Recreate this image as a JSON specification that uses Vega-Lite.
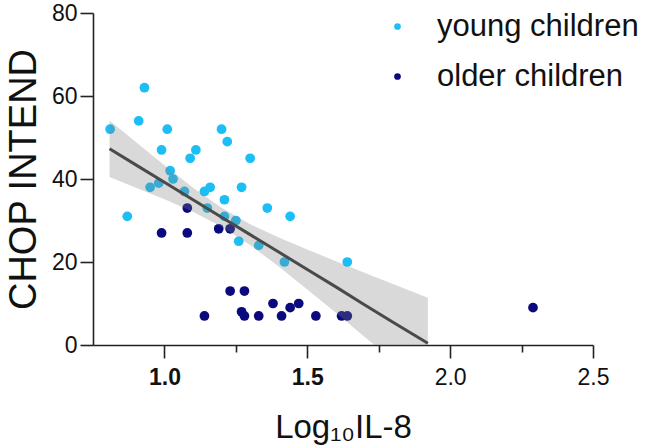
{
  "$schema": "https://vega.github.io/schema/vega-lite/v6.json",
  "width": 500,
  "height": 332,
  "autosize": "none",
  "padding": {"left": 93, "top": 13, "right": 52, "bottom": 102},
  "background": "white",
  "config": {
    "view": {"stroke": null},
    "font": "Liberation Sans",
    "axis": {
      "grid": false,
      "domainColor": "#222222",
      "tickColor": "#222222",
      "domainWidth": 1.6,
      "tickWidth": 1.6,
      "labelColor": "#111111",
      "titleColor": "#111111",
      "labelFont": "Liberation Sans",
      "titleFont": "Liberation Sans",
      "titleFontWeight": "normal"
    },
    "legend": {"padding": 0}
  },
  "datasets": {
    "points": [
      {"log_il8": 0.93, "chop": 62, "group": "young children"},
      {"log_il8": 0.91, "chop": 54, "group": "young children"},
      {"log_il8": 0.81, "chop": 52, "group": "young children"},
      {"log_il8": 1.01, "chop": 52, "group": "young children"},
      {"log_il8": 1.20, "chop": 52, "group": "young children"},
      {"log_il8": 1.22, "chop": 49, "group": "young children"},
      {"log_il8": 0.99, "chop": 47, "group": "young children"},
      {"log_il8": 1.11, "chop": 47, "group": "young children"},
      {"log_il8": 1.09, "chop": 45, "group": "young children"},
      {"log_il8": 1.30, "chop": 45, "group": "young children"},
      {"log_il8": 1.02, "chop": 42, "group": "young children"},
      {"log_il8": 1.03, "chop": 40, "group": "young children"},
      {"log_il8": 0.95, "chop": 38, "group": "young children"},
      {"log_il8": 0.98, "chop": 39, "group": "young children"},
      {"log_il8": 1.07, "chop": 37, "group": "young children"},
      {"log_il8": 1.14, "chop": 37, "group": "young children"},
      {"log_il8": 1.16, "chop": 38, "group": "young children"},
      {"log_il8": 1.27, "chop": 38, "group": "young children"},
      {"log_il8": 1.21, "chop": 35, "group": "young children"},
      {"log_il8": 1.15, "chop": 33, "group": "young children"},
      {"log_il8": 1.36, "chop": 33, "group": "young children"},
      {"log_il8": 0.87, "chop": 31, "group": "young children"},
      {"log_il8": 1.21, "chop": 31, "group": "young children"},
      {"log_il8": 1.25, "chop": 30, "group": "young children"},
      {"log_il8": 1.44, "chop": 31, "group": "young children"},
      {"log_il8": 1.26, "chop": 25, "group": "young children"},
      {"log_il8": 1.33, "chop": 24, "group": "young children"},
      {"log_il8": 1.42, "chop": 20, "group": "young children"},
      {"log_il8": 1.64, "chop": 20, "group": "young children"},
      {"log_il8": 1.08, "chop": 33, "group": "older children"},
      {"log_il8": 0.99, "chop": 27, "group": "older children"},
      {"log_il8": 1.08, "chop": 27, "group": "older children"},
      {"log_il8": 1.19, "chop": 28, "group": "older children"},
      {"log_il8": 1.23, "chop": 28, "group": "older children"},
      {"log_il8": 1.23, "chop": 13, "group": "older children"},
      {"log_il8": 1.28, "chop": 13, "group": "older children"},
      {"log_il8": 1.38, "chop": 10, "group": "older children"},
      {"log_il8": 1.44, "chop": 9, "group": "older children"},
      {"log_il8": 1.47, "chop": 10, "group": "older children"},
      {"log_il8": 1.14, "chop": 7, "group": "older children"},
      {"log_il8": 1.27, "chop": 8, "group": "older children"},
      {"log_il8": 1.28, "chop": 7, "group": "older children"},
      {"log_il8": 1.33, "chop": 7, "group": "older children"},
      {"log_il8": 1.41, "chop": 7, "group": "older children"},
      {"log_il8": 1.53, "chop": 7, "group": "older children"},
      {"log_il8": 1.62, "chop": 7, "group": "older children"},
      {"log_il8": 1.64, "chop": 7, "group": "older children"},
      {"log_il8": 2.29, "chop": 9, "group": "older children"}
    ],
    "band": [
      {"log_il8": 0.808, "fit": 47.3, "lo": 40.5, "hi": 54.1},
      {"log_il8": 0.9, "fit": 43.4, "lo": 37.9, "hi": 48.9},
      {"log_il8": 1.0, "fit": 39.2, "lo": 35.1, "hi": 43.3},
      {"log_il8": 1.1, "fit": 35.0, "lo": 32.1, "hi": 37.9},
      {"log_il8": 1.2, "fit": 30.8, "lo": 28.5, "hi": 33.1},
      {"log_il8": 1.3, "fit": 26.6, "lo": 24.1, "hi": 29.1},
      {"log_il8": 1.4, "fit": 22.4, "lo": 18.9, "hi": 25.9},
      {"log_il8": 1.5, "fit": 18.2, "lo": 13.4, "hi": 23.0},
      {"log_il8": 1.6, "fit": 14.0, "lo": 7.8, "hi": 20.2},
      {"log_il8": 1.7, "fit": 9.7, "lo": 2.0, "hi": 17.4},
      {"log_il8": 1.8, "fit": 5.5, "lo": -3.7, "hi": 14.7},
      {"log_il8": 1.922, "fit": 0.4, "lo": -10.6, "hi": 11.4}
    ]
  },
  "layer": [
    {
      "data": {"name": "points"},
      "mark": {"type": "circle", "size": 95, "opacity": 1},
      "encoding": {
        "x": {
          "field": "log_il8",
          "type": "quantitative",
          "scale": {"domain": [0.75, 2.5], "nice": false, "zero": false},
          "axis": {
            "values": [1, 1.25, 1.5, 1.75, 2, 2.25, 2.5],
            "tickSize": {"condition": {"test": "(datum.value * 2) % 1 == 0", "value": 13}, "value": 7},
            "labelExpr": "(datum.value * 2) % 1 == 0 ? format(datum.value, '.1f') : ''",
            "labelFontWeight": {"condition": {"test": "datum.value < 1.75", "value": "bold"}, "value": "normal"},
            "labelFontSize": 23,
            "labelPadding": 8,
            "labelFlush": false,
            "labelOverlap": false,
            "title": "Log₁₀IL-8",
            "titleFontSize": 33,
            "titlePadding": 22
          }
        },
        "y": {
          "field": "chop",
          "type": "quantitative",
          "scale": {"domain": [0, 80], "nice": false},
          "axis": {
            "values": [0, 20, 40, 60, 80],
            "tickSize": 13,
            "labelFontSize": 23,
            "labelPadding": 3,
            "title": "CHOP INTEND",
            "titleFontSize": 38,
            "titlePadding": 8
          }
        },
        "color": {
          "field": "group",
          "type": "nominal",
          "scale": {"domain": ["young children", "older children"], "range": ["#1BBEF5", "#0A0A7E"]},
          "legend": {
            "orient": "none",
            "legendX": 289,
            "legendY": -2,
            "title": null,
            "symbolType": "circle",
            "symbolSize": 45,
            "symbolStrokeWidth": 0,
            "labelFontSize": 31,
            "labelFont": "Liberation Sans",
            "labelColor": "#111111",
            "labelOffset": 24,
            "labelLimit": 400,
            "rowPadding": 18
          }
        }
      }
    },
    {
      "data": {"name": "band"},
      "mark": {"type": "area", "color": "#808080", "opacity": 0.3, "clip": true},
      "encoding": {
        "x": {"field": "log_il8", "type": "quantitative"},
        "y": {"field": "lo", "type": "quantitative"},
        "y2": {"field": "hi"}
      }
    },
    {
      "data": {"name": "band"},
      "mark": {"type": "line", "color": "#4A4A4A", "strokeWidth": 3, "clip": true},
      "encoding": {
        "x": {"field": "log_il8", "type": "quantitative"},
        "y": {"field": "fit", "type": "quantitative"}
      }
    }
  ]
}
